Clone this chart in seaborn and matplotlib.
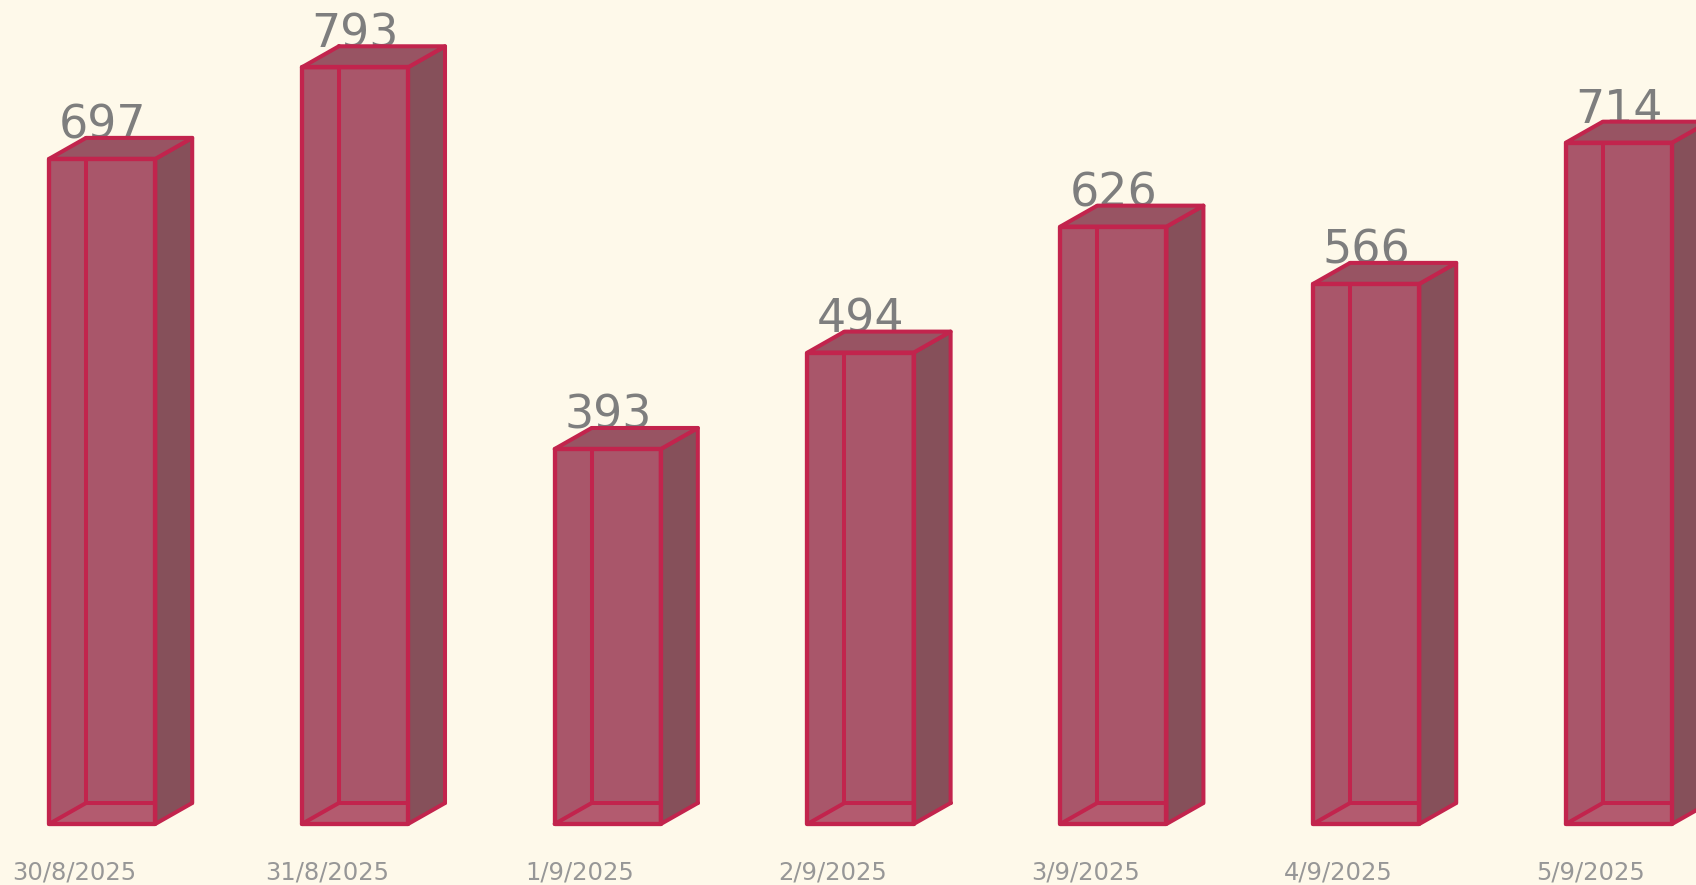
import matplotlib
matplotlib.use("Agg")
import matplotlib.pyplot as plt
from matplotlib.patches import Polygon
from matplotlib.lines import Line2D
from matplotlib.transforms import ScaledTranslation
import seaborn as sns
import pandas as pd

# Daily totals
dates = ["30/8/2025", "31/8/2025", "1/9/2025", "2/9/2025", "3/9/2025", "4/9/2025", "5/9/2025"]
totals = [697, 793, 393, 494, 626, 566, 714]

BG = "#FEF9EA"
FRONT = "#A9566A"
SIDE = "#86505A"
TOP = "#985463"
BOTTOM = "#B35B6F"
EDGE = "#C2244D"
LW = 2.9
DEPTH_X, DEPTH_Y = 37, 21  # box depth in pixels

sns.set_theme(style="white")
plt.rcParams["font.family"] = ["DejaVu Sans"]

fig = plt.figure(figsize=(16.96, 8.85), dpi=100, facecolor=BG)
ax = fig.add_axes([0, 61 / 885, 1, 824 / 885])
ax.set_facecolor(BG)

df = pd.DataFrame({"date": dates, "total": totals})
sns.barplot(data=df, x="date", y="total", ax=ax, width=0.42, color=FRONT,
            saturation=1, linewidth=0, zorder=2)

ax.set_xlim(-0.404, -0.404 + 1696 / 252.8)
ax.set_ylim(0, 863.5)
for s in ax.spines.values():
    s.set_visible(False)
ax.set_yticks([])
ax.set_xlabel("")
ax.set_ylabel("")
ax.tick_params(axis="x", length=0, pad=26, labelsize=17.5, labelcolor="#979797")
shift = ScaledTranslation(-28 / 100, 0, fig.dpi_scale_trans)
for lab in ax.get_xticklabels():
    lab.set_transform(lab.get_transform() + shift)

fig.canvas.draw()
to_disp = ax.transData.transform

for bar, val in zip(ax.patches, totals):
    x0, y0 = bar.get_x(), bar.get_y()
    x1, y1 = x0 + bar.get_width(), y0 + bar.get_height()
    (px0, py0), (px1, py1) = to_disp([(x0, y0), (x1, y1)])
    dx, dy = DEPTH_X, DEPTH_Y

    # bottom face seen through the front
    fig.patches.append(Polygon([(px0, py0), (px0 + dx, py0 + dy), (px1 + dx, py0 + dy), (px1, py0)],
                               closed=True, transform=None, facecolor=BOTTOM, edgecolor="none",
                               zorder=3, figure=fig))
    # hidden back edges
    for seg in ([(px0 + dx, py0 + dy), (px0 + dx, py1 + dy)],
                [(px0 + dx, py0 + dy), (px1 + dx, py0 + dy)],
                [(px0, py0), (px0 + dx, py0 + dy)]):
        xs, ys = zip(*seg)
        fig.lines.append(Line2D(xs, ys, transform=None, color=EDGE, lw=LW,
                                solid_capstyle="round", zorder=4, figure=fig))
    # right side face
    fig.patches.append(Polygon([(px1, py0), (px1 + dx, py0 + dy), (px1 + dx, py1 + dy), (px1, py1)],
                               closed=True, transform=None, facecolor=SIDE, edgecolor=EDGE,
                               lw=LW, joinstyle="round", zorder=5, figure=fig))
    # top face
    fig.patches.append(Polygon([(px0, py1), (px0 + dx, py1 + dy), (px1 + dx, py1 + dy), (px1, py1)],
                               closed=True, transform=None, facecolor=TOP, edgecolor=EDGE,
                               lw=LW, joinstyle="round", zorder=5, figure=fig))
    # front face outline
    fig.patches.append(Polygon([(px0, py0), (px0, py1), (px1, py1), (px1, py0)],
                               closed=True, transform=None, facecolor="none", edgecolor=EDGE,
                               lw=LW + 0.2, joinstyle="round", zorder=6, figure=fig))

    ax.annotate(f"{val}", xy=((x0 + x1) / 2, val), xytext=(0, 14.5), textcoords="offset points",
                ha="center", va="baseline", fontsize=33, color="#7E7E7E", zorder=7,
                annotation_clip=False)

fig.savefig("out.png", dpi=100, facecolor=BG)
